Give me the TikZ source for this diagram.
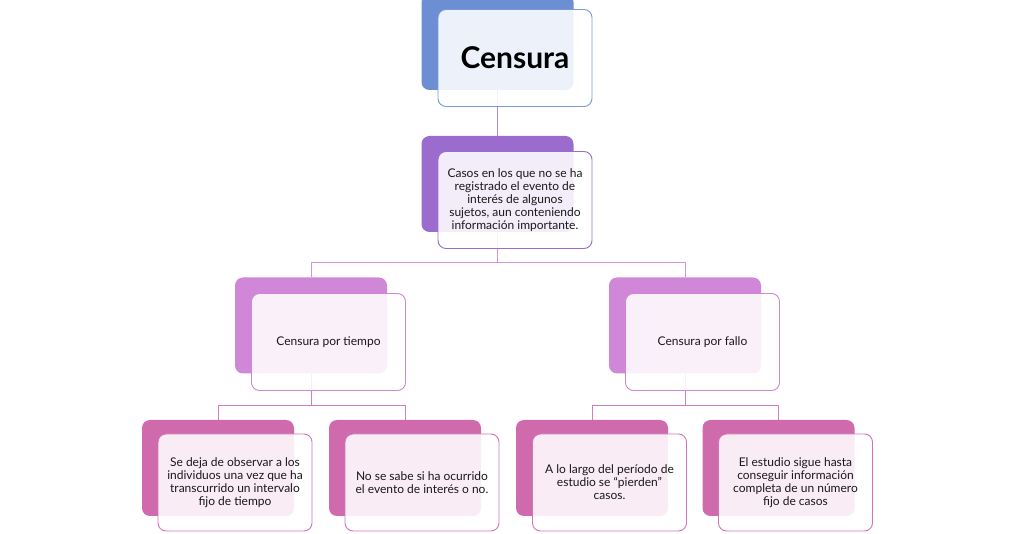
\documentclass[tikz,border=0pt]{standalone}
\usepackage{fontspec}
\setmainfont{Lato}

\definecolor{azulC}{HTML}{6C8FD4}
\definecolor{azulL}{HTML}{7B98D8}
\definecolor{moradoC}{HTML}{9B6CCE}
\definecolor{lilaC}{HTML}{D087D8}
\definecolor{rosaC}{HTML}{CF6AAD}
\definecolor{rosaL}{HTML}{D374B8}
\definecolor{lnkA}{HTML}{B48AD8}
\definecolor{lnkB}{HTML}{D793DC}
\definecolor{lnkC}{HTML}{D67CC0}

\tikzset{
  backbox/.style={rounded corners=8pt, minimum width=152pt, minimum height=96pt,
    inner sep=0pt, fill=#1},
  frontbox/.style={rounded corners=8pt, minimum width=154pt, minimum height=97pt,
    inner sep=0pt, draw=#1, line width=0.9pt, fill=white, fill opacity=0.88,
    text opacity=1, align=center, text=black!90,
    font=\fontsize{12}{13}\selectfont},
  link/.style={draw=#1, line width=0.9pt},
}

\begin{document}
\begin{tikzpicture}[x=1pt, y=-1pt]
                \useasboundingbox (0,0) rectangle (1021,534);
                \fill[white] (0,0) rectangle (1021,534);
                \clip (0,0) rectangle (1021,534);
                % capas de fondo
                \node[backbox=azulC]   (censuraB) at (497.5,42) {};
                \node[backbox=moradoC] (casosB)   at (497.5,184) {};
                \node[backbox=lilaC]   (tiempoB)  at (311,325.5) {};
                \node[backbox=lilaC]   (falloB)   at (685,325.5) {};
                \node[backbox=rosaC]   (dejaB)    at (218,468) {};
                \node[backbox=rosaC]   (sabeB)    at (405,468) {};
                \node[backbox=rosaC]   (largoB)   at (592,468) {};
                \node[backbox=rosaC]   (sigueB)   at (778.5,468) {};
                % conectores
                \coordinate (j1)  at (497.5,262);
                \coordinate (j2l) at (311,405);
                \coordinate (j2r) at (685,405);
                \draw[link=lnkA] (censuraB.south) -- (casosB.north);
                \draw[link=lnkB] (casosB.south) -- (j1) -| (tiempoB.north);
                \draw[link=lnkB] (j1) -| (falloB.north);
                \draw[link=lnkC] (tiempoB.south) -- (j2l) -| (dejaB.north);
                \draw[link=lnkC] (j2l) -| (sabeB.north);
                \draw[link=lnkC] (falloB.south) -- (j2r) -| (largoB.north);
                \draw[link=lnkC] (j2r) -| (sigueB.north);
                % tarjetas con texto
                \node[frontbox=azulL, font=\fontsize{30}{32}\selectfont\bfseries, text=black] (censura) at (515,58) {Censura};
                \node[frontbox=moradoC] (casos) at (515,200)
                    {Casos en los que no se ha\\registrado el evento de\\interés de algunos\\sujetos, aun conteniendo\\información importante.};
                \node[frontbox=lilaC] (tiempo) at (328.5,342) {Censura por tiempo};
                \node[frontbox=lilaC] (fallo)  at (702.5,342) {Censura por fallo};
                \node[frontbox=rosaL] (deja) at (235,482.5)
                    {Se deja de observar a los\\individuos una vez que ha\\transcurrido un intervalo\\fijo de tiempo};
                \node[frontbox=rosaL] (sabe) at (422,482.5)
                    {No se sabe si ha ocurrido\\el evento de interés o no.};
                \node[frontbox=rosaL] (largo) at (609.5,482.5)
                    {A lo largo del período de\\estudio se “pierden”\\casos.};
                \node[frontbox=rosaL] (sigue) at (795.5,482.5)
                    {El estudio sigue hasta\\conseguir información\\completa de un número\\fijo de casos};
            \end{tikzpicture}
\end{document}
